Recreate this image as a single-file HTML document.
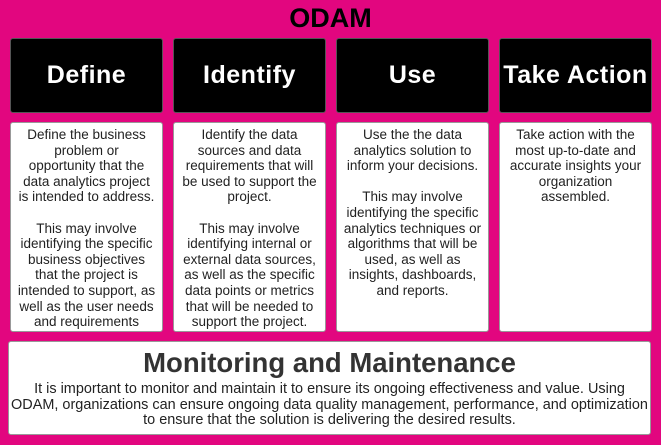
<!DOCTYPE html>
<html><head><style>
body{margin:0;width:661px;height:445px;background:#e2067f;position:relative;overflow:hidden;font-family:"Liberation Sans",sans-serif}
.t{position:absolute;left:0;width:661px;top:3px;text-align:center;font-weight:bold;font-size:27px;color:#000}
.h{position:absolute;top:38px;height:75px;width:153px;background:#000;border:1px solid #555;border-radius:3px;box-sizing:border-box;color:#fff;font-weight:bold;font-size:25px;display:flex;align-items:center;justify-content:center;letter-spacing:0.5px}
.b{position:absolute;top:122px;height:210px;width:153px;background:#fff;border:1px solid #999;border-radius:3px;box-sizing:border-box;color:#222;font-size:13.5px;line-height:15.6px;text-align:center;padding:4px 0;white-space:nowrap}
.m{position:absolute;left:8px;top:341px;width:643px;height:94px;background:#fff;border:1px solid #999;border-radius:3px;box-sizing:border-box;text-align:center;color:#222}
.m h2{margin:4px 0 2px;font-size:27.5px;line-height:34px;font-weight:bold;color:#333}
.m p{margin:0 -40px;font-size:14.6px;line-height:15.5px;white-space:nowrap;transform:scaleX(0.99)}
</style></head><body>
<div class="t">ODAM</div>
<div class="h" style="left:10px">Define</div>
<div class="h" style="left:173px">Identify</div>
<div class="h" style="left:336px">Use</div>
<div class="h" style="left:499px">Take Action</div>
<div class="b" style="left:10px">Define the business<br>problem or<br>opportunity that the<br>data analytics project<br>is intended to address.<br><br>This may involve<br>identifying the specific<br>business objectives<br>that the project is<br>intended to support, as<br>well as the user needs<br>and requirements</div>
<div class="b" style="left:173px">Identify the data<br>sources and data<br>requirements that will<br>be used to support the<br>project.<br><br>This may involve<br>identifying internal or<br>external data sources,<br>as well as the specific<br>data points or metrics<br>that will be needed to<br>support the project.</div>
<div class="b" style="left:336px">Use the the data<br>analytics solution to<br>inform your decisions.<br><br>This may involve<br>identifying the specific<br>analytics techniques or<br>algorithms that will be<br>used, as well as<br>insights, dashboards,<br>and reports.</div>
<div class="b" style="left:499px">Take action with the<br>most up-to-date and<br>accurate insights your<br>organization<br>assembled.</div>
<div class="m"><h2>Monitoring and Maintenance</h2><p>It is important to monitor and maintain it to ensure its ongoing effectiveness and value. Using<br>ODAM, organizations can ensure ongoing data quality management, performance, and optimization<br>to ensure that the solution is delivering the desired results.</p></div>
</body></html>
